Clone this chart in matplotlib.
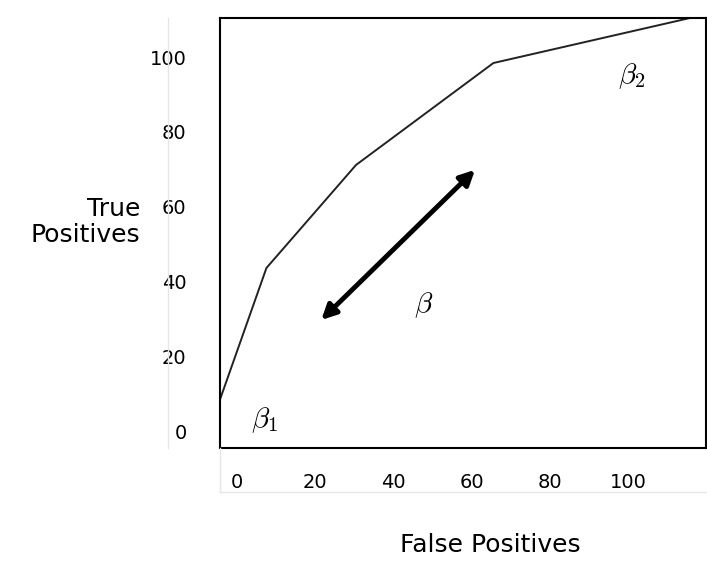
import matplotlib
matplotlib.use("Agg")
import matplotlib.pyplot as plt
from matplotlib.lines import Line2D

# curve
fp = [-4.3, 7.6, 30.5, 65.6, 115.8]
tp = [8.5, 43.7, 71.2, 98.4, 110.4]
ticks = [0, 20, 40, 60, 80, 100]
arrow_start = (21.1, 29.3)
arrow_end = (61.4, 70.4)

plt.rcParams['mathtext.fontset'] = 'cm'
fig = plt.figure(figsize=(7.07, 5.64), dpi=100)
ax = fig.add_axes([0.311, 0.206, 0.688, 0.762])
ax.plot(fp, tp, color='#222222', lw=1.4)
ax.set_xlim(-4.3, 120)
ax.set_ylim(-4.3, 110.4)
ax.set_xticks(ticks)
ax.set_yticks(ticks)
ax.tick_params(axis='y', length=0, pad=24, labelsize=14)
ax.tick_params(axis='x', length=0, pad=18, labelsize=14)
for s in ax.spines.values():
    s.set_linewidth(1.5)

ax.annotate('', xy=arrow_start, xytext=arrow_end,
            arrowprops=dict(arrowstyle='<|-|>', lw=3.5, color='black', mutation_scale=22))
ax.text(7.1, 3.2, r'$\beta_1$', fontsize=21, ha='center', va='center')
ax.text(101, 95, r'$\beta_2$', fontsize=21, ha='center', va='center')
ax.text(47.8, 33.9, r'$\beta$', fontsize=21, ha='center', va='center')

fig.text(140/707, 1 - 222/564, 'True\nPositives', ha='right', va='center',
         fontsize=18, linespacing=1.15)
fig.text(490/707, 1 - 545/564, 'False Positives', ha='center', va='center', fontsize=18)

# faint panel edges
fig.add_artist(Line2D([168/707, 168/707], [1 - 18/564, 1 - 448/564], color='#e6e6e6', lw=1))
fig.add_artist(Line2D([220/707, 707/707], [1 - 492/564, 1 - 492/564], color='#e6e6e6', lw=1))
fig.add_artist(Line2D([220/707, 220/707], [1 - 448/564, 1 - 492/564], color='#e6e6e6', lw=1))

fig.savefig('out.png', dpi=100)
